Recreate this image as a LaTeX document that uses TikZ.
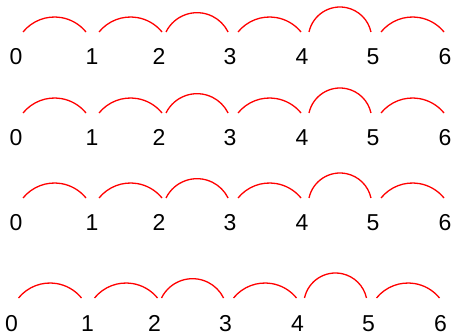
\documentclass[tikz,border=0pt]{standalone}
\usepackage{fontspec}
\setmainfont{Liberation Sans}
\begin{document}
\begin{tikzpicture}[x=1pt,y=1pt,
  lab/.style={anchor=base,inner sep=0pt,font=\fontsize{23}{28}\selectfont},
  arcline/.style={draw=red,line width=1.3pt}]
\useasboundingbox (0,0) rectangle (452,332);
\foreach \r/\dx/\dy in {1/0/0,2/0/81,3/0/166,4/-4.5/266}{
  \foreach \n/\x in {0/16,1/92,2/159,3/230,4/302,5/373,6/445}
    \node[lab] (r\r n\n) at ({\x+\dx},{267-\dy}) {\n};
  \foreach \i/\x/\t/\rad in {1/23/50.9/40.6,2/99/50.9/40.6,3/166/63.8/34.6,4/238/50.9/40.6,5/309/77.8/31.7,6/381/50.9/40.6}
    \draw[arcline] ({\x+\dx},{300-\dy}) coordinate (r\r a\i)
      arc[start angle={90+\t},end angle={90-\t},radius=\rad pt];
}
\end{tikzpicture}
\end{document}
